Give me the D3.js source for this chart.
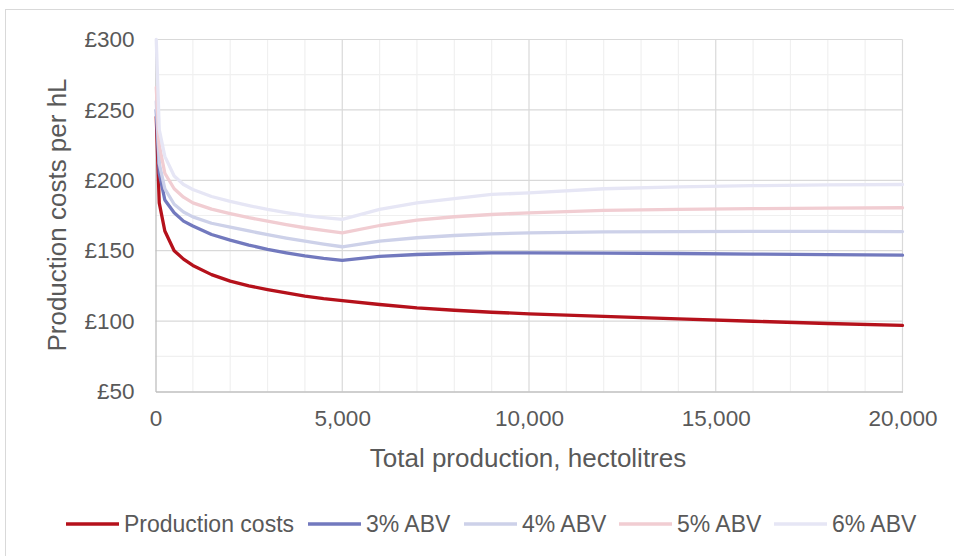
<!DOCTYPE html>
<html><head><meta charset="utf-8">
<script src="https://cdn.jsdelivr.net/npm/d3@7"></script>
<style>body{margin:0;background:#fff}svg{display:block;font-family:"Liberation Sans",Arial,sans-serif}</style>
</head><body><svg id="c" width="954" height="556"></svg>
<script>
const volumes = [20,100,250,500,750,1000,1500,2000,2500,3000,3500,4000,4500,5000,6000,7000,8000,9000,10000,12000,14000,16000,18000,20000];
const productionCosts = [245,184,164,150,144,139.5,133,128.4,125,122.4,120,117.7,116,114.6,111.8,109.4,107.7,106.3,105.2,103.4,101.6,99.9,98.3,96.9];
const abv3 = [250,205,186,177,171,167.5,161.5,157.5,154,151,148.5,146.3,144.6,143.2,146,147.3,148,148.4,148.5,148.3,148,147.6,147.2,146.8];
const abv4 = [256,212,194,183,177.5,174,169.5,166.8,164,161.5,159,156.8,154.7,152.8,156.8,159.2,160.8,162,162.7,163.4,163.6,163.7,163.7,163.6];
const abv5 = [266,225,205,194,188,184,179.5,176.4,173.5,171,168.5,166.3,164.4,162.7,167.9,171.7,174.1,175.7,176.9,178.6,179.4,179.9,180.2,180.5];
const abv6 = [300,236,217,203,197,193.5,188.5,185,182,179.3,177,175,173.5,172.2,179.3,184,187,190,191,194,195.3,196.2,196.7,197];
const seriesNames = ["Production costs","3% ABV","4% ABV","5% ABV","6% ABV"];
const seriesColors = ["#B5111B","#7279BE","#CDD1E9","#F1CDD2","#E6E6F5"];
const xTicks = [0,5000,10000,15000,20000];
const yTicks = [50,100,150,200,250,300];

const svg = d3.select("#c");
const textColor = "#595959";
svg.append("rect").attr("x",5.5).attr("y",9.5).attr("width",1000).attr("height",600)
  .attr("fill","#fff").attr("stroke","#d9d9d9").attr("stroke-width",1);

const x = d3.scaleLinear().domain([0,20000]).range([155.5,902.5]);
const y = d3.scaleLinear().domain([50,300]).range([391.5,39.5]);

const g = svg.append("g");
// minor grid
g.selectAll(".mx").data(d3.range(1000,20001,1000).filter(v=>v%5000)).join("line")
  .attr("x1",d=>x(d)).attr("x2",d=>x(d)).attr("y1",y(50)).attr("y2",y(300))
  .attr("stroke","#f0f0f0").attr("stroke-width",1.2);
g.selectAll(".my").data(d3.range(75,300,50)).join("line")
  .attr("x1",x(0)).attr("x2",x(20000)).attr("y1",d=>y(d)).attr("y2",d=>y(d))
  .attr("stroke","#f0f0f0").attr("stroke-width",1.2);
// major grid
g.selectAll(".Mx").data([5000,10000,15000,20000]).join("line")
  .attr("x1",d=>x(d)).attr("x2",d=>x(d)).attr("y1",y(50)).attr("y2",y(300))
  .attr("stroke","#d9d9d9").attr("stroke-width",1.2);
g.selectAll(".My").data([100,150,200,250,300]).join("line")
  .attr("x1",x(0)).attr("x2",x(20000)).attr("y1",d=>y(d)).attr("y2",d=>y(d))
  .attr("stroke","#d9d9d9").attr("stroke-width",1.2);

// axes
const xAxis = d3.axisBottom(x).tickValues(xTicks).tickSize(0).tickPadding(19).tickFormat(d3.format(","));
const xa = svg.append("g").attr("transform",`translate(0,${y(50)})`).call(xAxis);
xa.select(".domain").attr("stroke","#bfbfbf").attr("stroke-width",1.3);
xa.selectAll("text").attr("fill",textColor).attr("font-size",22.5).attr("font-family","Liberation Sans, Arial, sans-serif");

const yAxis = d3.axisLeft(y).tickValues(yTicks).tickSize(0).tickPadding(21).tickFormat(d=>"£"+d);
const ya = svg.append("g").attr("transform",`translate(${x(0)},0)`).call(yAxis);
ya.select(".domain").attr("stroke","#bfbfbf").attr("stroke-width",1.3);
ya.selectAll("text").attr("fill",textColor).attr("font-size",22.5).attr("font-family","Liberation Sans, Arial, sans-serif");

// titles
svg.append("text").attr("x",528).attr("y",467).attr("text-anchor","middle")
  .attr("fill",textColor).attr("font-size",26).text("Total production, hectolitres");
svg.append("text").attr("transform","translate(66,215) rotate(-90)").attr("text-anchor","middle")
  .attr("fill",textColor).attr("font-size",26).text("Production costs per hL");

// lines (first series drawn first, as in the reference)
const allSeries = [productionCosts,abv3,abv4,abv5,abv6];
const line = d3.line().x((d,i)=>x(volumes[i])).y(d=>y(d));
const lg = svg.append("g");
allSeries.forEach((vals,s)=>{
  lg.append("path").datum(vals).attr("d",line).attr("fill","none")
    .attr("stroke",seriesColors[s]).attr("stroke-width",3.3)
    .attr("stroke-linejoin","round").attr("stroke-linecap","round");
});

// legend
const legendX = [66,308,464,619,774];
const leg = svg.append("g");
seriesNames.forEach((n,i)=>{
  leg.append("line").attr("x1",legendX[i]).attr("x2",legendX[i]+53).attr("y1",524).attr("y2",524)
    .attr("stroke",seriesColors[i]).attr("stroke-width",3.5);
  leg.append("text").attr("x",legendX[i]+58).attr("y",532).attr("fill",textColor)
    .attr("font-size",23).text(n);
});
</script></body></html>
